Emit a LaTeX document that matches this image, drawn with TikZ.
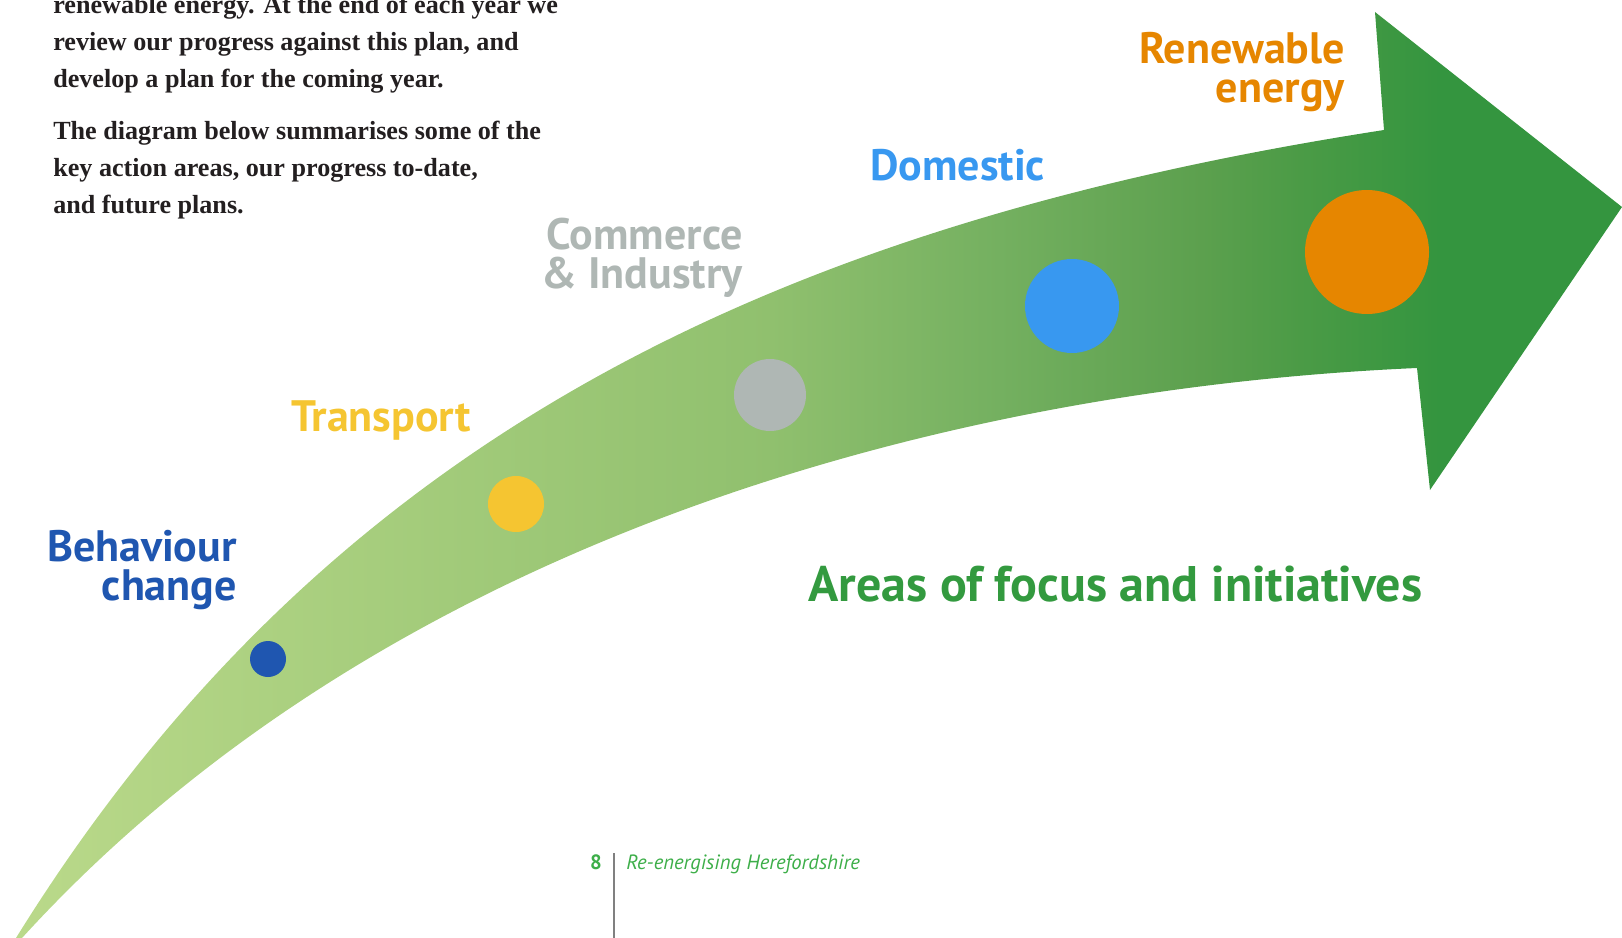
\documentclass[tikz,border=0pt]{standalone}
\usepackage{fontspec}
\setmainfont{Liberation Serif}
\setsansfont{PT Sans}
\usetikzlibrary{positioning}

\definecolor{flowlight}{HTML}{BAD98A}
\definecolor{flowmid}{HTML}{90C06E}
\definecolor{flowsoft}{HTML}{74B060}
\definecolor{flowdeep}{HTML}{5CA04E}
\definecolor{flowdeeper}{HTML}{4B9B46}
\definecolor{flowdark}{HTML}{34953F}
\definecolor{behaviourblue}{HTML}{1F56B0}
\definecolor{transportyellow}{HTML}{F5C531}
\definecolor{commercegray}{HTML}{AFB7B4}
\definecolor{domesticblue}{HTML}{3898F0}
\definecolor{renewableorange}{HTML}{E68600}
\definecolor{titlegreen}{HTML}{339A3F}
\definecolor{footgreen}{HTML}{3DAE49}
\definecolor{footgray}{HTML}{808080}
\definecolor{inkblack}{HTML}{231F20}

% light to dark green along the arrow
\pgfdeclarehorizontalshading{greenflow}{100bp}{color(0bp)=(flowlight); color(25bp)=(flowlight); color(48.5bp)=(flowmid); color(55.6bp)=(flowsoft); color(61.9bp)=(flowdeep); color(65bp)=(flowdeeper); color(69.3bp)=(flowdark); color(100bp)=(flowdark)}

\begin{document}
\begin{tikzpicture}[
    x=0.75pt, y=-0.75pt,
    focus/.style={inner sep=0, font=\sffamily\bfseries\fontsize{33}{29}\selectfont},
    spot/.style={circle, inner sep=0, minimum size=#1},
    intro/.style={inner sep=0, align=left, text=inkblack, font=\rmfamily\bfseries\fontsize{19.6}{27.75}\selectfont}
]
\useasboundingbox (0,0) rectangle (1622,938);
\clip (0,0) rectangle (1622,938);

% Intro text
\node[intro, anchor=north west] (intro) at (53,-5) {renewable energy. At the end of each year we\\
review our progress against this plan, and\\
develop a plan for the coming year.\\[11pt]
The diagram below summarises some of the\\
key action areas, our progress to-date,\\
and future plans.};

% Arrow
\shade[shading=greenflow] (16,938) .. controls (332,428) and (791,222) .. (1384,130)
    -- (1375,12) -- (1622,207) -- (1430,490) -- (1417,368)
    .. controls (918,390) and (372,554) .. (22,938) -- cycle;

% Dots on the arrow
\node[spot=27pt, fill=behaviourblue] (dotbehaviour) at (268,659) {};
\node[spot=42pt, fill=transportyellow] (dottransport) at (516,504) {};
\node[spot=54pt, fill=commercegray] (dotcommerce) at (770,395) {};
\node[spot=70.5pt, fill=domesticblue] (dotdomestic) at (1072,306) {};
\node[spot=93pt, fill=renewableorange] (dotrenewable) at (1367,252) {};

% Area labels
\node[focus, text=behaviourblue, align=right, anchor=north east] (behaviour) at (237,530) {Behaviour\\change};
\node[focus, text=transportyellow, anchor=base west] (transport) at (291,431) {Transport};
\node[focus, text=commercegray, align=right, anchor=north east] (commerce) at (743,218) {Commerce\\\& Industry};
\node[focus, text=domesticblue, anchor=base west] (domestic) at (870,181) {Domestic};
\node[focus, text=renewableorange, align=right, anchor=north east] (renewable) at (1345,32) {Renewable\\energy};

\node[inner sep=0, text=titlegreen, font=\sffamily\bfseries\fontsize{37.5}{40}\selectfont, anchor=base west] (title) at (808,601) {Areas of focus and initiatives};

% Footer
\node[inner sep=0, text=footgreen, font=\sffamily\bfseries\fontsize{15.5}{18}\selectfont, anchor=base east] (pagenum) at (602,869) {8};
\node[inner sep=0, text=footgreen, font=\sffamily\itshape\fontsize{15.5}{18}\selectfont, base right=18pt of pagenum] (runninghead) {Re-energising Herefordshire};
\coordinate (ruletop) at (614,853);
\coordinate (rulebottom) at (614,938);
\draw[footgray, line width=1.5pt] (ruletop) -- (rulebottom);

\end{tikzpicture}
\end{document}
